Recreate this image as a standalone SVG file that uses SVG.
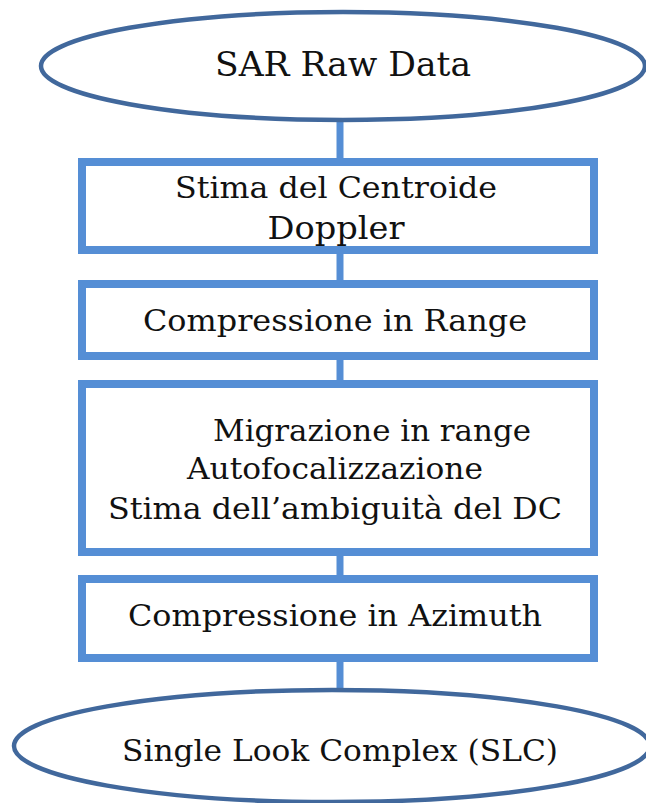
<svg xmlns="http://www.w3.org/2000/svg" width="646" height="803" viewBox="0 0 646 803">
<style>
.box{fill:#fff;stroke:#558ED5;stroke-width:8}
.ell{fill:#fff;stroke:#41689C;stroke-width:4.5}
.conn{stroke:#558ED5;stroke-width:7;fill:none}
text{font-family:"DejaVu Serif","Liberation Serif",serif;fill:#111;text-anchor:middle;font-size:29px}
</style>
<rect width="646" height="803" fill="#fff"/>
<g id="connectors">
<line class="conn" x1="340" y1="120" x2="340" y2="160"/>
<line class="conn" x1="340" y1="252" x2="340" y2="282"/>
<line class="conn" x1="340" y1="358" x2="340" y2="382"/>
<line class="conn" x1="340" y1="554" x2="340" y2="577"/>
<line class="conn" x1="340" y1="660" x2="340" y2="692"/>
</g>
<g id="sar-raw-data">
<ellipse class="ell" cx="343" cy="66" rx="302" ry="54"/>
<text x="343" y="76" style="font-size:33px" textLength="256" lengthAdjust="spacingAndGlyphs">SAR Raw Data</text>
</g>
<g id="doppler">
<rect class="box" x="82" y="162" width="512" height="88"/>
<text x="336" y="198" textLength="322" lengthAdjust="spacingAndGlyphs">Stima del Centroide</text>
<text x="336" y="239" style="font-size:31px" textLength="137" lengthAdjust="spacingAndGlyphs">Doppler</text>
</g>
<g id="range-compression">
<rect class="box" x="82" y="284" width="512" height="72"/>
<text x="335" y="331" textLength="384" lengthAdjust="spacingAndGlyphs">Compressione in Range</text>
</g>
<g id="rcm">
<rect class="box" x="82" y="384" width="512" height="168"/>
<text x="372" y="441" textLength="318" lengthAdjust="spacingAndGlyphs">Migrazione in range</text>
<text x="335" y="479" textLength="296" lengthAdjust="spacingAndGlyphs">Autofocalizzazione</text>
<text x="335" y="519" textLength="454" lengthAdjust="spacingAndGlyphs">Stima dell’ambiguità del DC</text>
</g>
<g id="azimuth-compression">
<rect class="box" x="82" y="579" width="512" height="79"/>
<text x="335" y="626" textLength="414" lengthAdjust="spacingAndGlyphs">Compressione in Azimuth</text>
</g>
<g id="slc">
<ellipse class="ell" cx="332" cy="746" rx="318" ry="56"/>
<text x="340" y="761" textLength="436" lengthAdjust="spacingAndGlyphs">Single Look Complex (SLC)</text>
</g>
</svg>
